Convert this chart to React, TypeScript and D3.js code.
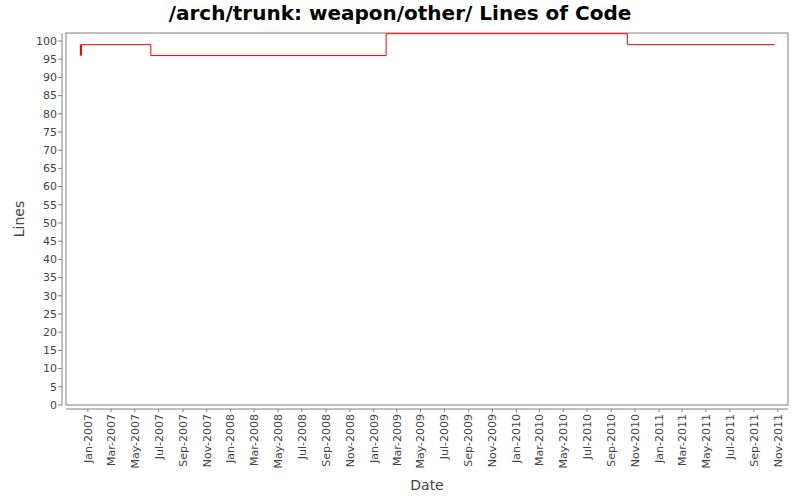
import React from "react";
import * as d3 from "d3";

const dates: string[] = ["2006-12-14", "2006-12-15", "2007-06-11", "2009-02-02", "2010-10-12", "2011-10-24"];
const values: number[] = [96, 99, 96, 102, 99, 99];
const yTicks: number[] = d3.range(0, 101, 5);
const xTickLabels: string[] = [
  "Jan-2007","Mar-2007","May-2007","Jul-2007","Sep-2007","Nov-2007",
  "Jan-2008","Mar-2008","May-2008","Jul-2008","Sep-2008","Nov-2008",
  "Jan-2009","Mar-2009","May-2009","Jul-2009","Sep-2009","Nov-2009",
  "Jan-2010","Mar-2010","May-2010","Jul-2010","Sep-2010","Nov-2010",
  "Jan-2011","Mar-2011","May-2011","Jul-2011","Sep-2011","Nov-2011",
];

const W = 800, H = 500;
const L = 66, R = 788, T = 33, B = 405;
const font = "'DejaVu Sans', sans-serif";

export default function App() {
  const parse = d3.timeParse("%Y-%m-%d");
  const parseTick = d3.timeParse("%b-%Y");
  const x = d3.scaleTime()
    .domain([new Date(2006, 10, 6), new Date(2011, 10, 27)])
    .range([L, R]);
  const y = d3.scaleLinear().domain([0, 102.2]).range([B, T]);
  const pts = dates.map((d, i) => [parse(d) as Date, values[i]] as [Date, number]);
  const line = d3.line<[Date, number]>()
    .x(d => x(d[0]))
    .y(d => y(d[1]))
    .curve(d3.curveStepAfter);
  const yAxisX = 62;
  const xAxisY = 409;
  return (
    <svg width={W} height={H} style={{ position: "absolute", left: 0, top: 0 }}>
      <rect width={W} height={H} fill="#fff" />
      <text x={400} y={20} textAnchor="middle" fontFamily={font} fontWeight="bold" fontSize={20} fill="#000">
        /arch/trunk: weapon/other/ Lines of Code
      </text>
      <rect x={L} y={T} width={R - L} height={B - T} fill="#fff" stroke="#808080" strokeWidth={1} />
      <line x1={yAxisX} x2={yAxisX} y1={T} y2={B} stroke="#808080" />
      {yTicks.map(t => (
        <g key={t}>
          <line x1={yAxisX - 4} x2={yAxisX} y1={y(t)} y2={y(t)} stroke="#808080" />
          <text x={yAxisX - 5} y={y(t)} dy="0.35em" textAnchor="end" fontFamily={font} fontSize={11} fill="#444">{t}</text>
        </g>
      ))}
      <line x1={L} x2={R} y1={xAxisY} y2={xAxisY} stroke="#808080" />
      {xTickLabels.map(lbl => {
        const xx = x(parseTick(lbl) as Date);
        return (
          <g key={lbl}>
            <line x1={xx} x2={xx} y1={xAxisY} y2={xAxisY + 3} stroke="#808080" />
            <text transform={`translate(${xx},${xAxisY + 5}) rotate(-90)`} dy="0.35em" textAnchor="end" fontFamily={font} fontSize={11} fill="#444">{lbl}</text>
          </g>
        );
      })}
      <path d={line(pts) || ""} fill="none" stroke="#ff0000" strokeWidth={1} />
      <line x1={x(pts[0][0])} x2={x(pts[0][0])} y1={y(values[0])} y2={y(values[1])} stroke="#ff0000" strokeWidth={2} />
      <text x={(L + R) / 2} y={490} textAnchor="middle" fontFamily={font} fontSize={14} fill="#444">Date</text>
      <text transform={`translate(24,${(T + B) / 2}) rotate(-90)`} textAnchor="middle" fontFamily={font} fontSize={14} fill="#444">Lines</text>
    </svg>
  );
}
